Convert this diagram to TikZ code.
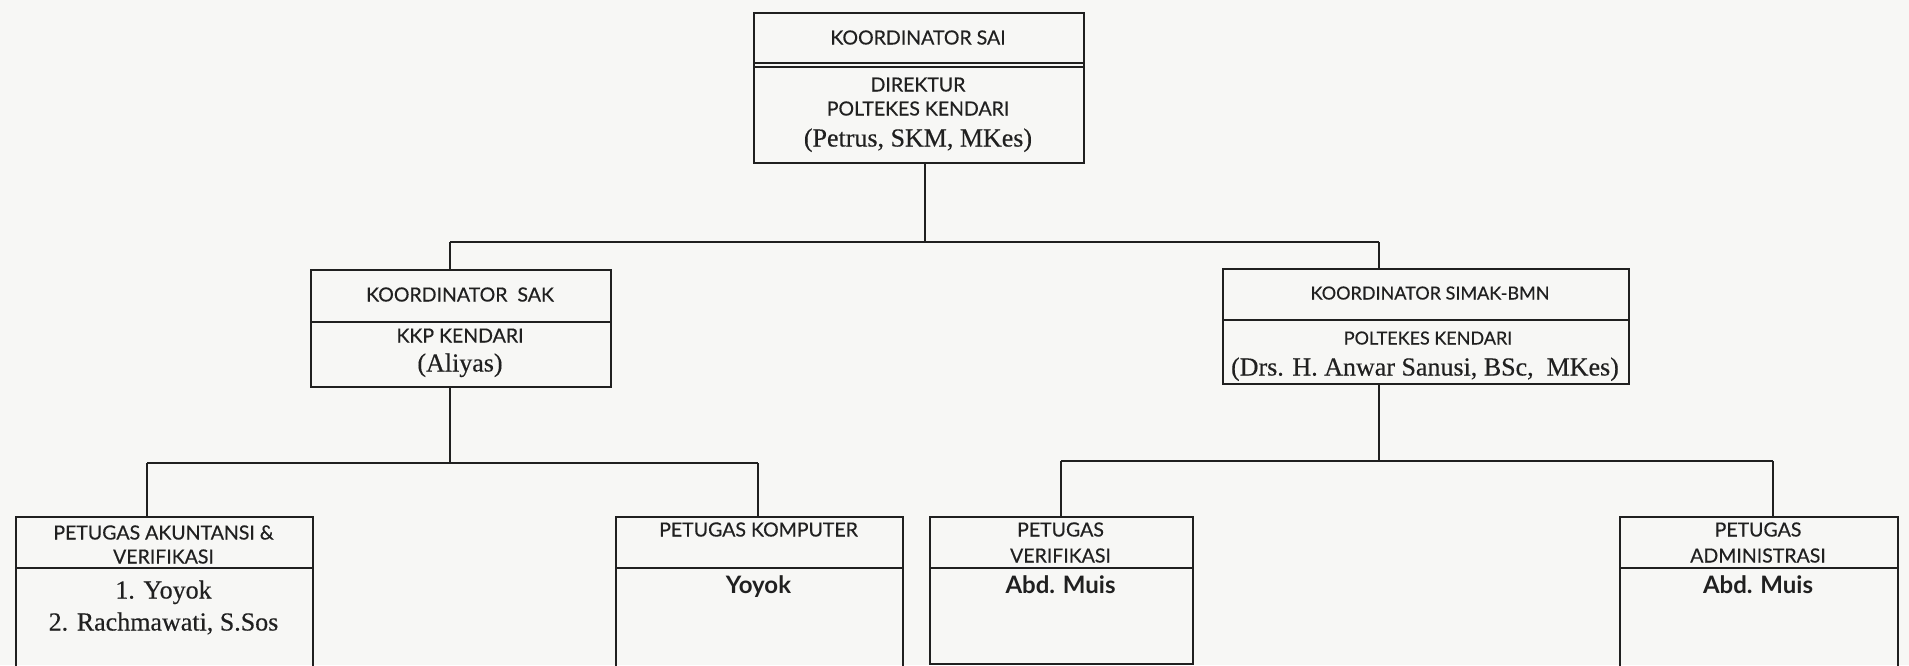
\documentclass[tikz,border=0pt]{standalone}
\usepackage{fontspec}
\setmainfont{Liberation Serif}[FakeBold=0.4]
\newfontfamily\labfont{Lato}[FakeBold=0.4]
\newfontfamily\namefont{Lato Bold}
\definecolor{ink}{RGB}{32,32,32}
\definecolor{paper}{RGB}{247,247,245}
\begin{document}
\begin{tikzpicture}[x=1pt,y=-1pt,
  box/.style={draw=ink,line width=2.3pt,rectangle,inner sep=0pt,anchor=north west},
  sepline/.style={draw=ink,line width=2pt},
  conn/.style={draw=ink,line width=2.2pt},
  lbl/.style={font=\labfont\fontsize{19.5}{21}\selectfont,text=ink,inner sep=0pt,anchor=base},
  lbls/.style={font=\labfont\fontsize{18}{20}\selectfont,text=ink,inner sep=0pt,anchor=base},
  nm/.style={font=\fontsize{26}{28}\selectfont,text=ink,inner sep=0pt,anchor=base},
  nms/.style={font=\namefont\fontsize{24}{26}\selectfont,text=ink,inner sep=0pt,anchor=base}]
\useasboundingbox (0,0) rectangle (1909,665);
\fill[paper] (0,0) rectangle (1909,665);
\begin{scope}
\clip (0,0) rectangle (1909,665);
% ---------- top box
\node[box,minimum width=330pt,minimum height=150pt] (top) at (753,12) {};
\draw[sepline] (top.west |- 0,63) -- (top.east |- 0,63);
\draw[sepline] (top.west |- 0,67) -- (top.east |- 0,67);
\node[lbl] (topA) at (918,44.5) {KOORDINATOR SAI};
\node[lbl] (topB) at (918,91.5) {DIREKTUR};
\node[lbl] (topC) at (918,115.5) {POLTEKES KENDARI};
\node[nm]  (topD) at (918,146.5) {(Petrus, SKM, MKes)};
% ---------- SAK
\node[box,minimum width=300pt,minimum height=117pt] (sak) at (310,269) {};
\draw[sepline] (sak.west |- 0,322) -- (sak.east |- 0,322);
\node[lbl] (sakA) at (460,301.5) {KOORDINATOR\ \ SAK};
\node[lbl] (sakB) at (460,342.5) {KKP KENDARI};
\node[nm]  (sakC) at (460,371.5) {(Aliyas)};
% ---------- SIMAK
\node[box,minimum width=406pt,minimum height=115pt] (simak) at (1222,268) {};
\draw[sepline] (simak.west |- 0,320) -- (simak.east |- 0,320);
\node[lbls] (simA) at (1430,299.5) {KOORDINATOR SIMAK-BMN};
\node[lbls] (simB) at (1428,344.5) {POLTEKES KENDARI};
\node[nm]  (simC) at (1425,375.5) {(Drs. H. Anwar Sanusi, BSc,\ \ MKes)};
% ---------- bottom row
\node[box,minimum width=297pt,minimum height=170pt] (akun) at (15,516) {};
\draw[sepline] (akun.west |- 0,568) -- (akun.east |- 0,568);
\node[lbl] (akA) at (163.5,539.5) {PETUGAS AKUNTANSI \&};
\node[lbl] (akB) at (163.5,563.5) {VERIFIKASI};
\node[nm]  (akC) at (163.5,598.5) {1. Yoyok};
\node[nm]  (akD) at (163.5,630.5) {2. Rachmawati, S.Sos};

\node[box,minimum width=287pt,minimum height=170pt] (komp) at (615,516) {};
\draw[sepline] (komp.west |- 0,568) -- (komp.east |- 0,568);
\node[lbl] (kpA) at (758.5,536.5) {PETUGAS KOMPUTER};
\node[nms] (kpB) at (758.5,593.5) {Yoyok};

\node[box,minimum width=263pt,minimum height=147pt] (verif) at (929,516) {};
\draw[sepline] (verif.west |- 0,568) -- (verif.east |- 0,568);
\node[lbl] (vfA) at (1060.5,536.5) {PETUGAS};
\node[lbl] (vfB) at (1060.5,562.5) {VERIFIKASI};
\node[nms] (vfC) at (1060.5,593.5) {Abd. Muis};

\node[box,minimum width=278pt,minimum height=170pt] (adm) at (1619,516) {};
\draw[sepline] (adm.west |- 0,568) -- (adm.east |- 0,568);
\node[lbl] (adA) at (1758,536.5) {PETUGAS};
\node[lbl] (adB) at (1758,562.5) {ADMINISTRASI};
\node[nms] (adC) at (1758,593.5) {Abd. Muis};
\end{scope}
% ---------- connectors
\coordinate (j1) at (925,242);
\coordinate (jL) at (450,242);
\coordinate (jR) at (1379,242);
\draw[conn] (top.south -| j1) -- (j1);
\draw[conn] (jL) -- (jR);
\draw[conn] (jL) -- (jL |- sak.north);
\draw[conn] (jR) -- (jR |- simak.north);
\coordinate (j2) at (450,463);
\coordinate (kL) at (147,463);
\coordinate (kR) at (758,463);
\draw[conn] (sak.south -| j2) -- (j2);
\draw[conn] (kL) -- (kR);
\draw[conn] (kL) -- (kL |- akun.north);
\draw[conn] (kR) -- (kR |- komp.north);
\coordinate (j3) at (1379,461);
\coordinate (vL) at (1061,461);
\coordinate (vR) at (1773,461);
\draw[conn] (simak.south -| j3) -- (j3);
\draw[conn] (vL) -- (vR);
\draw[conn] (vL) -- (vL |- verif.north);
\draw[conn] (vR) -- (vR |- adm.north);
\end{tikzpicture}
\end{document}
